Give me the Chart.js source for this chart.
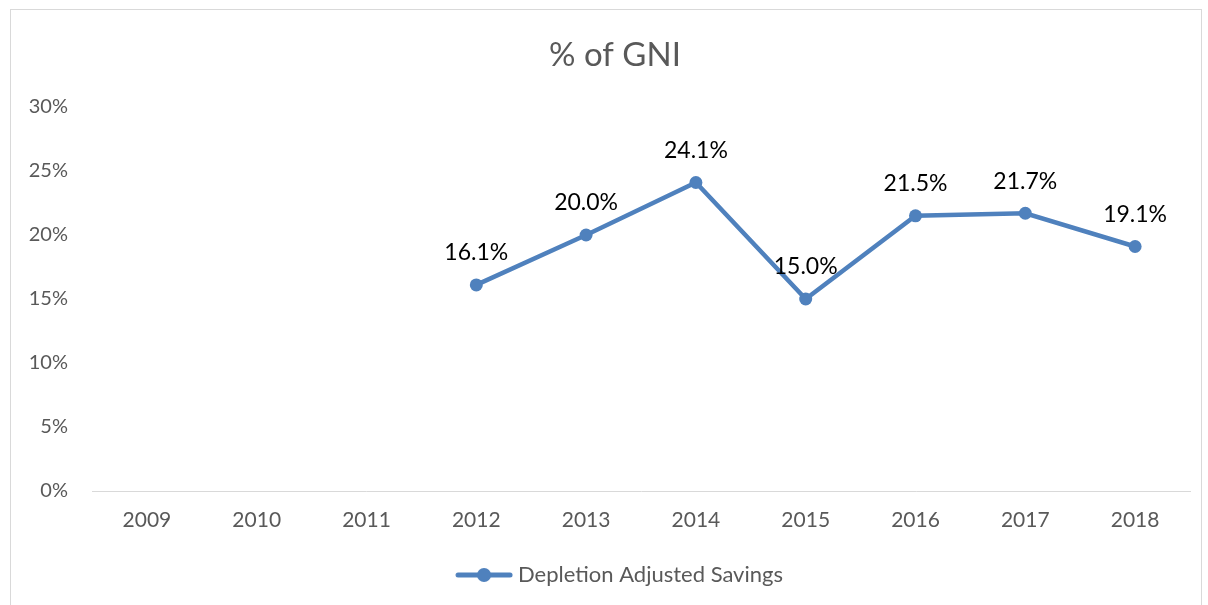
<!DOCTYPE html>
<html>
<head>
<meta charset="utf-8">
<script src="https://cdn.jsdelivr.net/npm/chart.js@4"></script>
<style>
  html, body { margin: 0; padding: 0; background: #fff; }
  #wrap { position: relative; width: 1208px; height: 605px; }
  #frame { position: absolute; left: 10px; top: 9px; width: 1192px; height: 600px; border: 1px solid #d9d9d9; box-sizing: border-box; }
  canvas { position: absolute; left: 0; top: 0; }
</style>
</head>
<body>
<div id="wrap">
  <div id="frame"></div>
  <canvas id="gni" width="1208" height="605"></canvas>
</div>
<script>
const years = ['2009', '2010', '2011', '2012', '2013', '2014', '2015', '2016', '2017', '2018'];
const savings = [null, null, null, 16.1, 20.0, 24.1, 15.0, 21.5, 21.7, 19.1];
const yTicks = [0, 5, 10, 15, 20, 25, 30];
const chartTitle = '% of GNI';

const blue = '#4f81bd';
const font = 'Lato, "Open Sans", sans-serif';

// legend marker: line with a dot, drawn on the right part of a wider canvas
// so the legend sits a bit right of the canvas centre like the original
const marker = document.createElement('canvas');
marker.width = 102;
marker.height = 16;
(function () {
  const c = marker.getContext('2d');
  const x0 = 44;
  c.strokeStyle = blue;
  c.lineWidth = 5;
  c.lineCap = 'round';
  c.beginPath();
  c.moveTo(x0 + 3, 8);
  c.lineTo(x0 + 55, 8);
  c.stroke();
  c.fillStyle = blue;
  c.beginPath();
  c.arc(x0 + 29, 8, 7, 0, Math.PI * 2);
  c.fill();
})();

// value labels above points + title centred over the whole frame
const valueLabels = {
  id: 'valueLabels',
  afterDatasetsDraw(chart) {
    const ctx = chart.ctx;
    const meta = chart.getDatasetMeta(0);
    ctx.save();
    ctx.font = '23px ' + font;
    ctx.fillStyle = '#000';
    ctx.textAlign = 'center';
    ctx.textBaseline = 'middle';
    meta.data.forEach((pt, i) => {
      const v = savings[i];
      if (v == null) return;
      ctx.fillText(v.toFixed(1) + '%', pt.x, pt.y - 32);
    });
    ctx.font = '33px ' + font;
    ctx.fillStyle = '#595959';
    ctx.fillText(chartTitle, 615, 55);
    ctx.restore();
  }
};

new Chart(document.getElementById('gni'), {
  type: 'line',
  data: {
    labels: years,
    datasets: [{
      label: 'Depletion Adjusted Savings',
      data: savings,
      borderColor: blue,
      backgroundColor: blue,
      borderWidth: 4.5,
      pointRadius: 6.5,
      pointHoverRadius: 6.5,
      pointBackgroundColor: blue,
      pointBorderWidth: 0,
      tension: 0,
      spanGaps: false
    }]
  },
  options: {
    responsive: false,
    animation: false,
    layout: { padding: { left: 10, right: 18, top: 107, bottom: 9 } },
    plugins: {
      title: { display: false },
      legend: {
        position: 'bottom',
        labels: {
          color: '#595959',
          font: { family: font, size: 22 },
          usePointStyle: true,
          pointStyleWidth: 90,
          padding: 10,
          generateLabels(chart) {
            return [{
              text: chart.data.datasets[0].label,
              pointStyle: marker,
              fillStyle: blue,
              strokeStyle: blue,
              lineWidth: 0,
              fontColor: '#595959',
              datasetIndex: 0
            }];
          }
        }
      },
      tooltip: { enabled: false }
    },
    scales: {
      x: {
        offset: true,
        afterFit(scale) { scale.height = 63; },
        grid: { display: false, drawTicks: false },
        border: { display: true, color: '#d9d9d9', width: 1 },
        ticks: {
          color: '#595959',
          font: { family: font, size: 21 },
          padding: 17
        }
      },
      y: {
        min: 0,
        max: 30,
        afterFit(scale) { scale.width = 82; },
        afterBuildTicks(scale) { scale.ticks = yTicks.map(v => ({ value: v })); },
        grid: { display: false, drawTicks: false },
        border: { display: false },
        ticks: {
          color: '#595959',
          font: { family: font, size: 20 },
          padding: 24,
          callback: v => v + '%'
        }
      }
    }
  },
  plugins: [valueLabels]
});
</script>
</body>
</html>
